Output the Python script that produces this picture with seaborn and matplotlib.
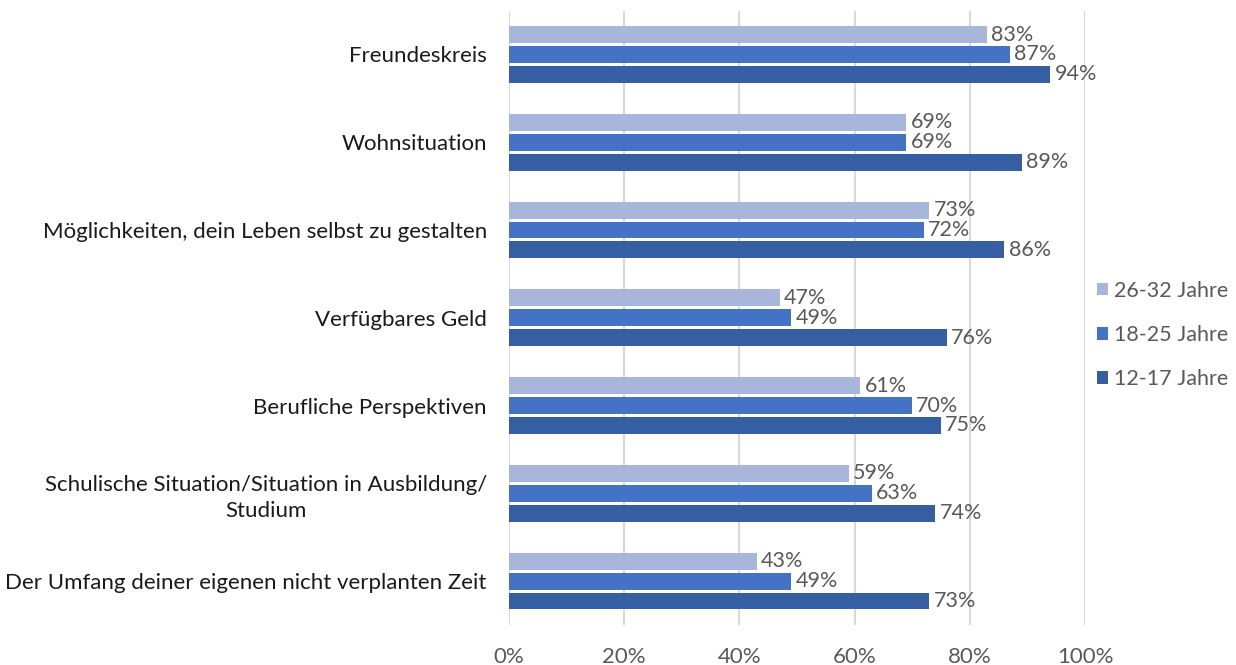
import matplotlib
matplotlib.use("Agg")
import matplotlib.pyplot as plt
import seaborn as sns
import pandas as pd

categories = [
    "Freundeskreis",
    "Wohnsituation",
    "Möglichkeiten, dein Leben selbst zu gestalten",
    "Verfügbares Geld",
    "Berufliche Perspektiven",
    "Schulische Situation/Situation in Ausbildung/\nStudium",
    "Der Umfang deiner eigenen nicht verplanten Zeit",
]
groups = ["26-32 Jahre", "18-25 Jahre", "12-17 Jahre"]
values_26_32 = [83, 69, 73, 47, 61, 59, 43]
values_18_25 = [87, 69, 72, 49, 70, 63, 49]
values_12_17 = [94, 89, 86, 76, 75, 74, 73]
x_ticks = [0, 20, 40, 60, 80, 100]
x_tick_labels = ["0%", "20%", "40%", "60%", "80%", "100%"]

colors = ["#A9B6DB", "#4472C4", "#365EA3"]

rows = []
for g, vals in zip(groups, [values_26_32, values_18_25, values_12_17]):
    for c, v in zip(categories, vals):
        rows.append({"cat": c, "group": g, "value": v})
df = pd.DataFrame(rows)

sns.set_theme(style="white")
plt.rcParams["font.family"] = ["Lato", "DejaVu Sans"]

fig = plt.figure(figsize=(12.36, 6.65), dpi=100)
ax = fig.add_axes([509 / 1236, 1 - 625 / 665, 576 / 1236, (625 - 10.6) / 665])

sns.barplot(data=df, y="cat", x="value", hue="group", hue_order=groups,
            order=categories, palette=colors, orient="h", width=0.68, gap=0.15,
            ax=ax, legend=False, saturation=1, errorbar=None, linewidth=0)

for cont in ax.containers:
    vals = [int(round(b.get_width())) for b in cont]
    ax.bar_label(cont, labels=[f"{v}%" for v in vals], padding=3,
                 fontsize=15.5, color="#595959")

ax.set_xlim(0, 100)
ax.set_ylim(6.5, -0.5)
ax.set_xticks(x_ticks)
ax.set_xticklabels(x_tick_labels, fontsize=16, color="#595959")
ax.tick_params(axis="x", length=0, pad=16)
ax.tick_params(axis="y", length=0, pad=16)
for lbl in ax.get_yticklabels():
    lbl.set_fontsize(16)
    lbl.set_color("#1a1a1a")
    if "\n" in lbl.get_text():
        lbl.set_multialignment("center")
        lbl.set_linespacing(1.35)
ax.set_xlabel("")
ax.set_ylabel("")
ax.xaxis.grid(True, color="#D9D9D9", linewidth=1.5)
ax.set_axisbelow(True)
for s in ax.spines.values():
    s.set_visible(False)

from matplotlib.patches import Patch
handles = [Patch(facecolor=c, edgecolor="none") for c in colors]
fig.legend(handles, groups, loc="upper left", bbox_to_anchor=(1097 / 1236, 1 - 281 / 665),
           frameon=False, fontsize=15.5, labelcolor="#595959",
           borderpad=0, borderaxespad=0,
           handlelength=0.5, handleheight=0.5, handletextpad=0.3,
           labelspacing=1.12)

fig.savefig("out.png", dpi=100)
